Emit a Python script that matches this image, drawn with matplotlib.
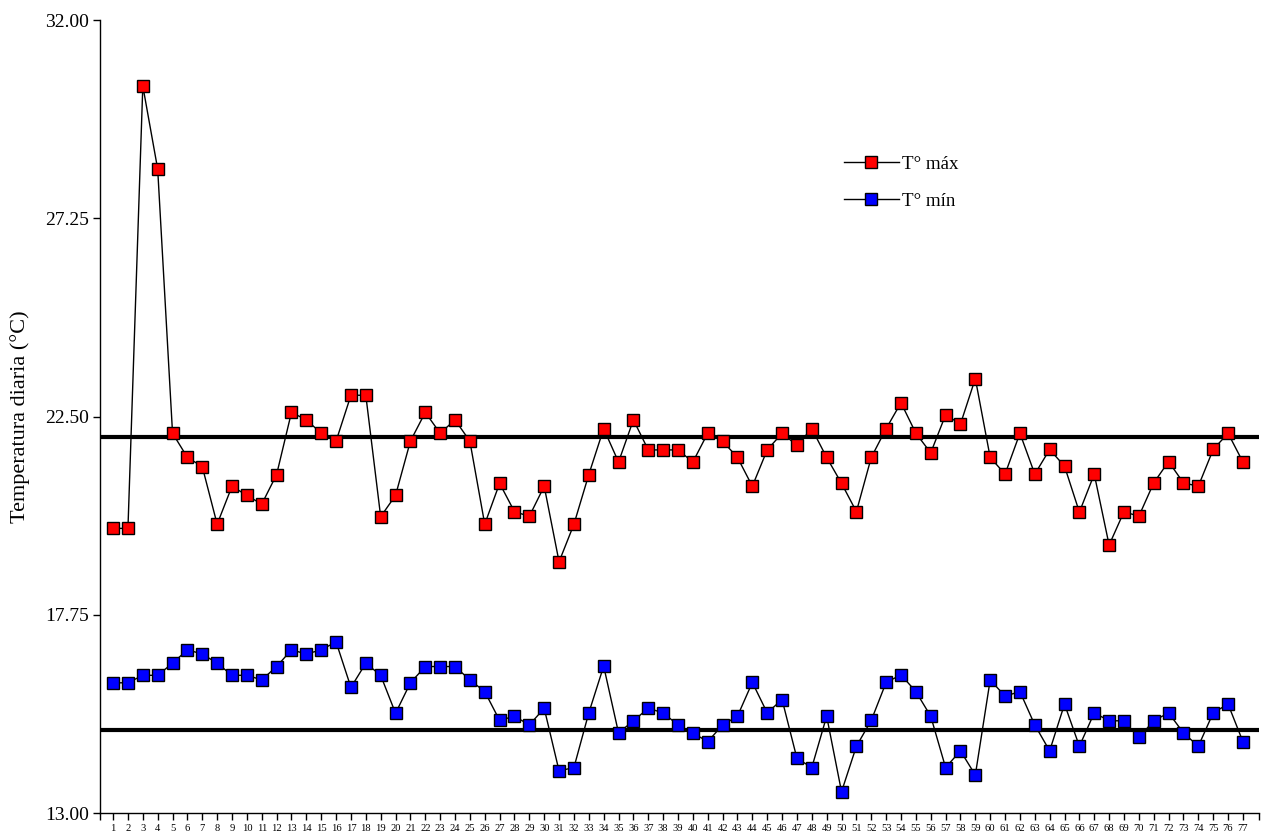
import matplotlib
matplotlib.use("Agg")
import matplotlib.pyplot as plt
import numpy as np

# Daily temperature record, days 1..77
days = list(range(1, 78))

t_max = [19.82, 19.82, 30.42, 28.43, 22.10, 21.52, 21.30, 19.92, 20.83, 20.61,
         20.40, 21.11, 22.60, 22.42, 22.10, 21.91, 23.01, 23.01, 20.10, 20.61,
         21.91, 22.60, 22.10, 22.42, 21.91, 19.92, 20.90, 20.22, 20.11, 20.83,
         19.02, 19.92, 21.11, 22.21, 21.41, 22.42, 21.70, 21.70, 21.70, 21.41,
         22.10, 21.91, 21.52, 20.83, 21.70, 22.10, 21.81, 22.21, 21.52, 20.90,
         20.22, 21.52, 22.21, 22.83, 22.10, 21.63, 22.54, 22.32, 23.41, 21.52,
         21.12, 22.10, 21.12, 21.71, 21.31, 20.21, 21.12, 19.42, 20.22, 20.11,
         20.91, 21.42, 20.91, 20.83, 21.71, 22.10, 21.41]

t_min = [16.12, 16.12, 16.30, 16.30, 16.59, 16.91, 16.81, 16.59, 16.30, 16.30,
         16.19, 16.51, 16.91, 16.81, 16.91, 17.10, 16.01, 16.59, 16.30, 15.39,
         16.12, 16.51, 16.51, 16.51, 16.19, 15.91, 15.22, 15.32, 15.11, 15.51,
         14.01, 14.09, 15.40, 16.52, 14.92, 15.21, 15.51, 15.40, 15.11, 14.92,
         14.71, 15.11, 15.32, 16.13, 15.40, 15.72, 14.31, 14.09, 15.32, 13.51,
         14.60, 15.22, 16.13, 16.31, 15.91, 15.32, 14.09, 14.49, 13.91, 16.19,
         15.80, 15.91, 15.11, 14.49, 15.61, 14.60, 15.40, 15.21, 15.21, 14.81,
         15.21, 15.40, 14.92, 14.60, 15.40, 15.61, 14.71]

# Period averages drawn as reference lines
avg_max = 22.02
avg_min = 14.98

y_ticks = [13.00, 17.75, 22.50, 27.25, 32.00]
series_labels = ["T° máx", "T° mín"]
y_label = "Temperatura diaria (°C)"

plt.rcParams["font.family"] = ["Liberation Serif", "DejaVu Serif"]

fig = plt.figure(figsize=(12.69, 8.38), dpi=100)
ax = fig.add_axes([0.0788, 0.0298, 0.9133, 0.9463])

x0, x1 = 0.12, 78.08
ax.set_xlim(x0, x1)
ax.set_ylim(y_ticks[0], y_ticks[-1])

ax.hlines([avg_max, avg_min], x0, x1, colors="black", linewidth=3.0, zorder=2)

marker_kw = dict(marker="s", markersize=8.3, markeredgecolor="black",
                 markeredgewidth=1.0, color="black", linewidth=1.0, zorder=3)
ax.plot(days, t_max, markerfacecolor="#ff0000", label=series_labels[0], **marker_kw)
ax.plot(days, t_min, markerfacecolor="#0000ff", label=series_labels[1], **marker_kw)

ax.set_yticks(y_ticks)
ax.set_yticklabels([f"{v:.2f}" for v in y_ticks], fontsize=14)
ax.set_xticks([x0] + days + [x1])
ax.set_xticklabels([""] + [str(d) for d in days] + [""], fontsize=7.6)
ax.tick_params(axis="both", direction="out", length=5, width=1.0, color="black")
ax.tick_params(axis="x", pad=3)
ax.tick_params(axis="y", pad=3)

for side in ("top", "right"):
    ax.spines[side].set_visible(False)
for side in ("left", "bottom"):
    ax.spines[side].set_linewidth(1.0)

ax.set_ylabel(y_label, fontsize=16, labelpad=11)

leg = ax.legend(loc="upper left", bbox_to_anchor=(0.6416, 0.8295), frameon=False,
                fontsize=13.7, handlelength=2.9, handletextpad=0.15,
                labelspacing=1.05, borderaxespad=0, borderpad=0)

fig.savefig("out.png", dpi=100)
